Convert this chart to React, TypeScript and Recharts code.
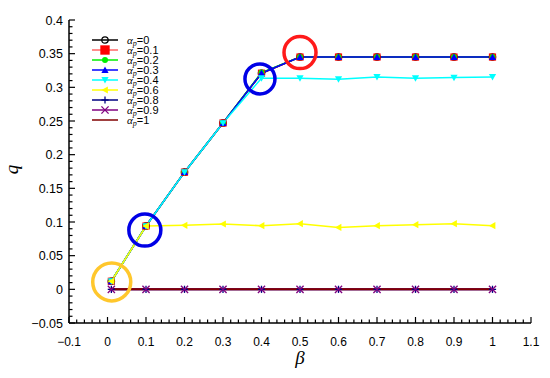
import React from 'react';
import { LineChart, Line, XAxis, YAxis, ReferenceDot } from 'recharts';

const beta = [0.01, 0.1, 0.2, 0.3, 0.4, 0.5, 0.6, 0.7, 0.8, 0.9, 1.0];
const ap0 = [0.012, 0.094, 0.174, 0.247, 0.321, 0.345, 0.345, 0.345, 0.345, 0.345, 0.345];
const ap01 = [0.012, 0.094, 0.174, 0.247, 0.321, 0.345, 0.345, 0.345, 0.345, 0.345, 0.345];
const ap02 = [0.012, 0.094, 0.174, 0.247, 0.322, 0.345, 0.345, 0.345, 0.345, 0.345, 0.345];
const ap03 = [0.012, 0.094, 0.174, 0.247, 0.321, 0.345, 0.345, 0.345, 0.345, 0.345, 0.345];
const ap04 = [0.012, 0.094, 0.174, 0.247, 0.3135, 0.3135, 0.312, 0.3155, 0.3135, 0.3145, 0.3155];
const ap06 = [0.012, 0.094, 0.095, 0.097, 0.0945, 0.0975, 0.092, 0.0945, 0.096, 0.0975, 0.0945];
const ap08 = [0, 0, 0, 0, 0, 0, 0, 0, 0, 0, 0];
const ap09 = [0, 0, 0, 0, 0, 0, 0, 0, 0, 0, 0];
const ap1 = [0, 0, 0, 0, 0, 0, 0, 0, 0, 0, 0];

const xMajor = [-0.1, 0, 0.1, 0.2, 0.3, 0.4, 0.5, 0.6, 0.7, 0.8, 0.9, 1.0, 1.1];
const xLabels = ['\u22120.1', '0', '0.1', '0.2', '0.3', '0.4', '0.5', '0.6', '0.7', '0.8', '0.9', '1', '1.1'];
const yMajor = [-0.05, 0, 0.05, 0.1, 0.15, 0.2, 0.25, 0.3, 0.35, 0.4];
const yLabels = ['\u22120.05', '0', '0.05', '0.1', '0.15', '0.2', '0.25', '0.3', '0.35', '0.4'];

const seriesNames = ['0', '0.1', '0.2', '0.3', '0.4', '0.6', '0.8', '0.9', '1'];
const seriesKeys = ['a0', 'a01', 'a02', 'a03', 'a04', 'a06', 'a08', 'a09', 'a1'];
const seriesColors = ['#000000', '#FF0000', '#00EE00', '#0000FF', '#00FFFF', '#FFFF00', '#000080', '#800080', '#800000'];
const legendColors = ['#000000', '#FF6666', '#00EE00', '#0000FF', '#00FFFF', '#FFFF00', '#000080', '#800080', '#800000'];
const seriesMarkers = ['circleOpen', 'square', 'circle', 'triUp', 'triDown', 'triLeft', 'plus', 'cross', 'none'];

// annotation circles: [beta, q, radius, color]
const annotations = [
  { x: 0.011, y: 0.011, r: 19, color: '#FFC72C' },
  { x: 0.097, y: 0.088, r: 16, color: '#0000E6' },
  { x: 0.396, y: 0.3125, r: 15, color: '#0000E6' },
  { x: 0.5, y: 0.3516, r: 16, color: '#FF1A1A' },
];

const allSeries = [ap0, ap01, ap02, ap03, ap04, ap06, ap08, ap09, ap1];
const data = beta.map((b, i) => {
  const row: any = { beta: b };
  seriesKeys.forEach((k, j) => { row[k] = allSeries[j][i]; });
  return row;
});

function subdivide(major: number[], n: number) {
  const out: number[] = [];
  for (let i = 0; i < major.length - 1; i++) {
    for (let j = 0; j < n; j++) out.push(+(major[i] + ((major[i + 1] - major[i]) * j) / n).toFixed(4));
  }
  out.push(major[major.length - 1]);
  return out;
}
const xTicks = subdivide(xMajor, 5);
const yTicks = subdivide(yMajor, 5);

function isMajor(v: number, major: number[]) {
  return major.some((m) => Math.abs(m - v) < 1e-6);
}

function marker(type: string, cx: number, cy: number, color: string, s = 1) {
  const h = 3.6 * s;
  switch (type) {
    case 'circleOpen':
      return <circle cx={cx} cy={cy} r={3.2 * s} fill="none" stroke={color} strokeWidth={1.2} />;
    case 'square':
      return <rect x={cx - h} y={cy - h} width={2 * h} height={2 * h} fill={color} />;
    case 'circle':
      return <circle cx={cx} cy={cy} r={3 * s} fill={color} />;
    case 'triUp':
      return <polygon points={`${cx},${cy - h} ${cx - h},${cy + h * 0.8} ${cx + h},${cy + h * 0.8}`} fill={color} />;
    case 'triDown':
      return <polygon points={`${cx},${cy + h} ${cx - h},${cy - h * 0.8} ${cx + h},${cy - h * 0.8}`} fill={color} />;
    case 'triLeft':
      return <polygon points={`${cx - h},${cy} ${cx + h * 0.8},${cy - h} ${cx + h * 0.8},${cy + h}`} fill={color} />;
    case 'plus':
      return (
        <g stroke={color} strokeWidth={1.3}>
          <line x1={cx - h} y1={cy} x2={cx + h} y2={cy} />
          <line x1={cx} y1={cy - h} x2={cx} y2={cy + h} />
        </g>
      );
    case 'cross':
      return (
        <g stroke={color} strokeWidth={1.3}>
          <line x1={cx - h} y1={cy - h} x2={cx + h} y2={cy + h} />
          <line x1={cx - h} y1={cy + h} x2={cx + h} y2={cy - h} />
        </g>
      );
    default:
      return null;
  }
}

const XTick = (props: any) => {
  const { x, y, payload } = props;
  const v = payload.value;
  const maj = isMajor(v, xMajor);
  const idx = xMajor.findIndex((m) => Math.abs(m - v) < 1e-6);
  return (
    <g>
      <line x1={x} y1={y} x2={x} y2={y - (maj ? 6 : 3.5)} stroke="#000" strokeWidth={1.2} />
      {maj && (
        <text x={x} y={y + 23} textAnchor="middle" fontSize={12} fontFamily="Liberation Sans, Arial, sans-serif" fill="#000">
          {xLabels[idx]}
        </text>
      )}
    </g>
  );
};

const YTick = (props: any) => {
  const { x, y, payload } = props;
  const v = payload.value;
  const maj = isMajor(v, yMajor);
  const idx = yMajor.findIndex((m) => Math.abs(m - v) < 1e-6);
  return (
    <g>
      <line x1={x} y1={y} x2={x + (maj ? 6 : 3.5)} y2={y} stroke="#000" strokeWidth={1.2} />
      {maj && (
        <text x={x - 6} y={y + 4.5} textAnchor="end" fontSize={12.5} fontFamily="Liberation Sans, Arial, sans-serif" fill="#000">
          {yLabels[idx]}
        </text>
      )}
    </g>
  );
};

const LegendBox = () => (
  <svg width={120} height={100} style={{ position: 'absolute', left: 92, top: 35, overflow: 'visible' }}>
    {seriesNames.map((n, i) => {
      const y = 5 + i * 10;
      return (
        <g key={n}>
          <line x1={0} y1={y} x2={26} y2={y} stroke={legendColors[i]} strokeWidth={1.5} />
          {marker(seriesMarkers[i], 13, y, seriesColors[i], i === 1 ? 1.3 : 1)}
          <text x={35} y={y + 4} fontSize={11} fontFamily="Liberation Sans, Arial, sans-serif" fill="#000">
            <tspan fontFamily="Liberation Serif, serif" fontStyle="italic">α</tspan>
            <tspan fontFamily="Liberation Serif, serif" fontStyle="italic" fontSize={8} dy={2}>p</tspan>
            <tspan dy={-2}>={n}</tspan>
          </text>
        </g>
      );
    })}
  </svg>
);

const YLabel = (props: any) => {
  const { viewBox } = props;
  const cy = viewBox.y + viewBox.height / 2 - 2;
  return (
    <text x={18} y={cy} transform={`rotate(-90, 18, ${cy})`} textAnchor="middle" fontSize={19} fontStyle="italic" fontFamily="Liberation Serif, serif" fill="#000">
      q
    </text>
  );
};

const XLabel = (props: any) => {
  const { viewBox } = props;
  const cx = viewBox.x + viewBox.width / 2;
  return (
    <text x={cx} y={364} textAnchor="middle" fontSize={19} fontStyle="italic" fontFamily="Liberation Serif, serif" fill="#000">
      β
    </text>
  );
};

export default function App() {
  return (
    <div style={{ position: 'absolute', left: 0, top: 0, width: 550, height: 378, background: '#fff' }}>
      <LineChart width={550} height={378} data={data} margin={{ top: 20, right: 19, bottom: 15, left: 9 }}>
        <XAxis
          dataKey="beta"
          type="number"
          domain={[-0.1, 1.1]}
          ticks={xTicks}
          interval={0}
          tickSize={0}
          tickMargin={0}
          tick={<XTick />}
          height={40}
          axisLine={{ stroke: '#000', strokeWidth: 1.5 }}
          tickLine={false}
          label={<XLabel />}
        />
        <YAxis
          type="number"
          domain={[-0.05, 0.4]}
          ticks={yTicks}
          interval={0}
          tickSize={0}
          tickMargin={0}
          tick={<YTick />}
          width={60}
          axisLine={{ stroke: '#000', strokeWidth: 1.5 }}
          tickLine={false}
          allowDataOverflow
          label={<YLabel />}
        />
        {seriesKeys.map((k, i) => (
          <Line
            key={k}
            dataKey={k}
            stroke={seriesColors[i]}
            strokeWidth={i >= 6 ? 2 : 1.5}
            isAnimationActive={false}
            dot={(p: any) => <g key={`${k}-${p.index}`}>{marker(seriesMarkers[i], p.cx, p.cy, seriesColors[i])}</g>}
            activeDot={false}
          />
        ))}
        {annotations.map((a, i) => (
          <ReferenceDot key={i} x={a.x} y={a.y} r={a.r} fill="none" stroke={a.color} strokeWidth={3.5} />
        ))}
      </LineChart>
      <LegendBox />
    </div>
  );
}
